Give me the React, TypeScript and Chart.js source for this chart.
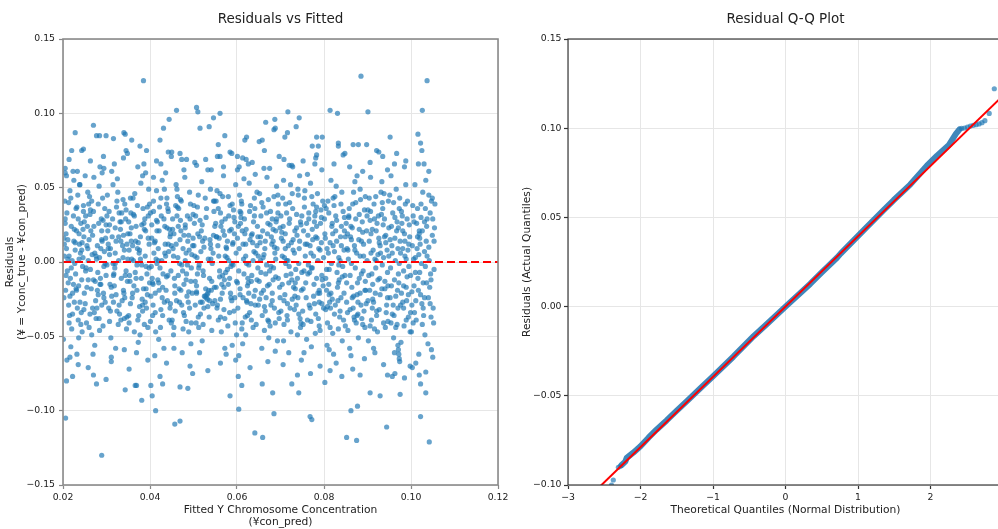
import React, { useEffect, useRef } from "react";
import { Chart, registerables } from "chart.js";

Chart.register(...registerables);

const FONT = "'DejaVu Sans', 'Liberation Sans', sans-serif";
const MINUS = "\u2212";

// ---------- Left panel: residuals vs fitted ----------
const scatterCore: [number, number][] = [
[.0203,.004],[.0217,-.011],[.0231,.021],[.0245,-.003],[.0209,.033],[.0226,-.027],[.0238,.012],[.0214,-.041],[.0249,.027],[.0221,.001],[.0206,-.019],[.0234,.045],[.0242,-.034],[.0211,.015],[.0229,-.008],[.0247,.038],[.0201,-.052],[.0219,.024],[.0236,-.016],[.0208,.009],[.0244,-.047],[.0224,.031],[.0213,-.029],[.0240,.006],[.0232,-.062],[.0204,.041],[.0227,-.001],[.0248,.017],[.0215,-.036],[.0239,.052],[.0222,-.021],[.0207,.019],[.0243,-.012],[.0230,.036],[.0218,-.057],[.0246,.003],[.0210,-.006],[.0235,-.039],[.0225,.014],[.0202,-.024],[.0241,.026],[.0216,.048],[.0233,-.031],[.0228,.008],[.0212,-.014],[.0249,-.021],[.0205,.029],[.0237,.002],[.0220,-.045],[.0244,.013],[.0223,.061],[.0209,-.066],[.0231,-.019],[.0247,.034],[.0214,.004],[.0239,-.027],[.0226,.022],[.0203,.012],[.0236,-.051],[.0218,.043],
[.0253,-.004],[.0268,.018],[.0281,-.022],[.0295,.007],[.0259,.039],[.0274,-.013],[.0288,.029],[.0262,-.035],[.0299,-.009],[.0277,.002],[.0256,.024],[.0284,-.046],[.0291,.043],[.0265,-.018],[.0279,.011],[.0251,-.028],[.0270,.034],[.0297,-.001],[.0283,-.038],[.0260,.015],[.0273,-.056],[.0289,.021],[.0257,.047],[.0294,-.024],[.0267,.005],[.0286,-.011],[.0252,.031],[.0278,-.031],[.0298,.016],[.0263,-.005],[.0271,.057],[.0292,-.043],[.0255,-.017],[.0282,.026],[.0269,-.062],[.0287,.009],[.0258,.001],[.0275,-.026],[.0296,.036],[.0264,.021],[.0280,-.007],[.0254,-.041],[.0290,.014],[.0272,-.034],[.0261,.044],[.0285,-.015],[.0299,.025],[.0266,-.049],[.0276,.004],[.0293,-.021],[.0257,.009],[.0283,.051],[.0270,-.012],[.0289,-.029],[.0262,.032],
[.0304,.012],[.0318,-.016],[.0331,.027],[.0345,-.006],[.0309,-.033],[.0324,.041],[.0338,.003],[.0312,-.023],[.0349,.019],[.0327,-.042],[.0306,.034],[.0334,-.011],[.0341,.008],[.0315,.052],[.0329,-.029],[.0301,-.002],[.0320,.023],[.0347,-.037],[.0333,.014],[.0310,-.051],[.0323,.037],[.0339,-.019],[.0307,.005],[.0344,.029],[.0317,-.008],[.0336,-.026],[.0302,.045],[.0328,.001],[.0348,-.013],[.0313,.017],[.0321,-.058],[.0342,.039],[.0305,-.031],[.0332,.022],[.0319,-.004],[.0337,.011],[.0308,-.015],[.0325,.056],[.0346,-.045],[.0314,.029],[.0330,-.035],[.0304,.009],[.0340,-.021],[.0322,.014],[.0311,-.064],[.0335,.033],[.0349,.002],[.0316,-.027],[.0326,.047],[.0343,-.009],[.0307,.025],[.0333,-.039],[.0320,-.001],[.0339,.018],[.0312,.061],
[.0353,-.009],[.0367,.014],[.0382,-.025],[.0396,.031],[.0358,.002],[.0372,-.039],[.0387,.022],[.0361,.043],[.0399,-.014],[.0376,.008],[.0355,-.028],[.0384,.036],[.0391,-.003],[.0364,-.047],[.0378,.017],[.0351,.027],[.0370,-.019],[.0397,.049],[.0383,-.033],[.0360,.011],[.0373,-.054],[.0389,.004],[.0356,.033],[.0394,-.022],[.0366,-.007],[.0386,.026],[.0352,-.041],[.0379,.053],[.0398,.012],[.0363,-.016],[.0371,.038],[.0392,-.031],[.0354,.019],[.0381,-.002],[.0369,-.061],[.0388,.029],[.0359,-.024],[.0375,.006],[.0395,-.044],[.0365,.046],[.0380,-.011],[.0357,.014],[.0390,.021],[.0374,-.036],[.0362,.001],[.0385,-.018],[.0399,.039],[.0368,.024],[.0377,-.049],[.0393,-.008],[.0354,-.013],[.0383,.058],[.0371,.009],[.0389,-.027],[.0362,.032],
[.0404,.016],[.0418,-.012],[.0432,.029],[.0446,-.031],[.0409,.006],[.0424,-.044],[.0438,.039],[.0412,-.021],[.0449,.011],[.0427,.001],[.0406,-.036],[.0434,.024],[.0441,-.009],[.0415,.048],[.0429,-.017],[.0401,.033],[.0420,-.052],[.0447,.019],[.0433,-.027],[.0410,.013],[.0423,-.004],[.0439,.043],[.0407,-.015],[.0444,-.039],[.0417,.027],[.0436,.004],[.0402,-.023],[.0428,.055],[.0448,-.006],[.0413,-.047],[.0421,.021],[.0442,.034],[.0405,-.011],[.0432,-.058],[.0419,.009],[.0437,-.019],[.0408,.041],[.0425,-.032],[.0446,.017],[.0414,.002],[.0430,-.008],[.0404,.025],[.0440,-.026],[.0422,.037],[.0411,-.063],[.0435,.012],[.0449,-.041],[.0416,-.001],[.0426,.031],[.0443,.007],[.0407,-.029],[.0433,.049],[.0420,-.014],[.0439,.023],[.0412,-.034],
[.0453,.009],[.0467,-.018],[.0481,.025],[.0495,-.004],[.0458,-.033],[.0472,.041],[.0487,.014],[.0461,-.026],[.0499,.032],[.0476,-.045],[.0455,.019],[.0484,-.008],[.0491,.047],[.0464,.003],[.0478,-.015],[.0451,-.039],[.0470,.028],[.0497,-.021],[.0483,.006],[.0460,.052],[.0473,-.029],[.0489,.018],[.0456,-.011],[.0494,-.055],[.0466,.036],[.0486,-.002],[.0452,.022],[.0479,-.036],[.0498,.011],[.0463,.044],[.0471,-.019],[.0492,.029],[.0454,-.049],[.0481,.001],[.0469,.015],[.0488,-.027],[.0459,.038],[.0475,-.006],[.0495,-.041],[.0465,.024],[.0480,.057],[.0457,-.016],[.0490,.008],[.0474,-.061],[.0462,.031],[.0485,-.023],[.0499,.016],[.0468,-.001],[.0477,-.034],[.0493,.039],[.0454,.004],[.0483,-.012],[.0471,.021],[.0489,-.047],[.0462,.049],
[.0504,-.013],[.0518,.021],[.0531,-.022],[.0545,.006],[.0509,.037],[.0524,-.031],[.0538,.015],[.0512,-.004],[.0549,-.026],[.0527,.043],[.0506,-.041],[.0534,.002],[.0541,-.019],[.0515,.028],[.0529,-.024],[.0501,.011],[.0520,-.053],[.0547,.034],[.0533,-.021],[.0510,.019],[.0523,-.009],[.0539,.049],[.0507,-.016],[.0544,-.028],[.0517,.007],[.0536,-.037],[.0502,.026],[.0528,-.018],[.0548,.041],[.0513,-.002],[.0521,.014],[.0542,-.046],[.0505,.031],[.0532,-.025],[.0519,.054],[.0537,-.011],[.0508,.003],[.0525,-.023],[.0546,.018],[.0514,-.061],[.0530,.036],[.0504,-.029],[.0540,.009],[.0522,-.006],[.0511,.045],[.0535,-.019],[.0549,.024],[.0516,-.035],[.0526,.016],[.0543,-.001],[.0507,-.021],[.0533,.062],[.0520,-.027],[.0539,.012],[.0512,-.044],
[.0553,.017],[.0567,-.009],[.0581,.031],[.0595,-.024],[.0558,.004],[.0572,-.038],[.0587,.022],[.0561,.046],[.0599,-.013],[.0576,.009],[.0555,-.029],[.0584,.038],[.0591,-.002],[.0564,-.047],[.0578,.014],[.0551,.026],[.0570,-.017],[.0597,.052],[.0583,-.034],[.0560,-.006],[.0573,.029],[.0589,-.056],[.0556,.011],[.0594,.019],[.0566,-.021],[.0586,-.003],[.0552,.041],[.0579,-.043],[.0598,.006],[.0563,.024],[.0571,-.012],[.0592,.035],[.0554,-.031],[.0581,.001],[.0569,.058],[.0588,-.026],[.0559,.016],[.0575,-.062],[.0595,.027],[.0565,-.015],[.0580,.044],[.0557,-.039],[.0590,.012],[.0574,-.007],[.0562,.033],[.0585,-.021],[.0599,-.049],[.0568,.021],[.0577,.003],[.0593,-.033],[.0554,.048],[.0583,-.011],[.0571,.018],[.0589,.039],[.0562,-.025],
[.0604,-.006],[.0618,.019],[.0632,-.028],[.0646,.011],[.0609,.033],[.0624,-.016],[.0638,.027],[.0612,-.041],[.0649,.004],[.0627,-.021],[.0606,.045],[.0634,-.009],[.0641,.036],[.0615,.002],[.0629,-.034],[.0601,.016],[.0620,-.049],[.0647,.024],[.0633,-.013],[.0610,.041],[.0623,-.027],[.0639,.007],[.0607,-.018],[.0644,-.042],[.0617,.029],[.0636,.013],[.0602,-.031],[.0628,.053],[.0648,-.004],[.0613,-.055],[.0621,.022],[.0642,-.019],[.0605,.009],[.0631,.038],[.0619,-.037],[.0637,.001],[.0608,.026],[.0625,-.011],[.0646,.047],[.0614,-.024],[.0630,.015],[.0604,-.063],[.0640,.031],[.0622,-.001],[.0611,-.045],[.0635,.019],[.0649,-.029],[.0616,.056],[.0626,-.014],[.0643,.006],[.0607,.034],[.0633,-.039],[.0620,.012],[.0639,-.023],[.0612,.021],
[.0653,.013],[.0667,-.024],[.0681,.029],[.0695,-.011],[.0658,-.036],[.0672,.042],[.0687,.006],[.0661,-.019],[.0699,.023],[.0676,-.043],[.0655,.031],[.0684,-.004],[.0691,.051],[.0664,.009],[.0678,-.029],[.0651,-.013],[.0670,.019],[.0697,-.038],[.0683,.014],[.0660,.037],[.0673,-.051],[.0689,.002],[.0656,-.021],[.0694,.033],[.0666,-.008],[.0686,-.031],[.0652,.046],[.0679,.017],[.0698,-.017],[.0663,-.046],[.0671,.026],[.0692,.009],[.0654,.001],[.0681,-.026],[.0669,.057],[.0688,-.041],[.0659,.021],[.0675,-.006],[.0695,.039],[.0665,-.033],[.0680,.012],[.0657,-.058],[.0690,.027],[.0674,-.015],[.0662,.005],[.0685,.044],[.0699,-.024],[.0668,-.002],[.0677,.034],[.0693,-.053],[.0654,.017],[.0683,-.012],[.0671,-.039],[.0689,.021],[.0662,.063],
[.0704,-.015],[.0718,.011],[.0732,-.032],[.0746,.027],[.0709,.003],[.0724,-.047],[.0738,.018],[.0712,.039],[.0749,-.007],[.0727,-.025],[.0706,.024],[.0734,-.014],[.0741,.045],[.0715,-.036],[.0729,.008],[.0701,.031],[.0720,-.003],[.0747,-.041],[.0733,.021],[.0710,-.022],[.0723,.052],[.0739,-.011],[.0707,-.053],[.0744,.014],[.0717,.001],[.0736,-.029],[.0702,.016],[.0728,.036],[.0748,-.019],[.0713,-.009],[.0721,.029],[.0742,-.035],[.0705,.043],[.0732,.006],[.0719,-.061],[.0737,.023],[.0708,-.026],[.0725,.013],[.0746,-.044],[.0714,.033],[.0730,-.017],[.0704,.004],[.0740,.049],[.0722,-.031],[.0711,.019],[.0735,-.005],[.0749,.031],[.0716,-.039],[.0726,-.012],[.0743,.009],[.0707,.055],[.0733,-.023],[.0720,.026],[.0739,-.049],[.0712,-.001],
[.0753,.021],[.0767,-.007],[.0781,.034],[.0795,-.028],[.0758,-.014],[.0772,.044],[.0787,-.038],[.0761,.012],[.0799,.003],[.0776,-.023],[.0755,.037],[.0784,.016],[.0791,-.046],[.0764,-.002],[.0778,.027],[.0751,-.033],[.0770,.006],[.0797,.041],[.0783,-.011],[.0760,-.052],[.0773,.022],[.0789,-.019],[.0756,.048],[.0794,.013],[.0766,-.029],[.0786,.001],[.0752,-.042],[.0779,.031],[.0798,-.016],[.0763,.018],[.0771,-.057],[.0792,.026],[.0754,-.006],[.0781,-.035],[.0769,.053],[.0788,.009],[.0759,-.024],[.0775,.039],[.0795,-.009],[.0765,.029],[.0780,-.048],[.0757,.004],[.0790,-.021],[.0774,.015],[.0762,-.039],[.0785,.046],[.0799,-.031],[.0768,.011],[.0777,-.015],[.0793,.035],[.0754,-.061],[.0783,.024],[.0771,-.004],[.0789,-.027],[.0762,.059],
[.0804,-.011],[.0818,.024],[.0832,-.026],[.0846,.008],[.0809,.041],[.0824,-.035],[.0838,.017],[.0812,-.005],[.0849,-.043],[.0827,.031],[.0806,-.019],[.0834,.003],[.0841,.047],[.0815,-.031],[.0829,.014],[.0801,.029],[.0820,-.048],[.0847,.021],[.0833,-.014],[.0810,.006],[.0823,.038],[.0839,-.024],[.0807,-.056],[.0844,.034],[.0817,-.001],[.0836,-.037],[.0802,.019],[.0828,.051],[.0848,-.009],[.0813,-.027],[.0821,.011],[.0842,-.053],[.0805,.036],[.0831,-.017],[.0819,.026],[.0837,.001],[.0808,-.041],[.0825,.044],[.0846,-.021],[.0814,.013],[.0830,-.007],[.0804,-.032],[.0840,.024],[.0822,-.062],[.0811,.033],[.0835,-.012],[.0849,.017],[.0816,.055],[.0826,-.029],[.0843,-.003],[.0807,.009],[.0833,-.045],[.0820,.019],[.0839,.039],[.0812,-.022],
[.0853,.009],[.0867,-.031],[.0881,.022],[.0895,-.013],[.0858,.036],[.0872,-.004],[.0887,-.038],[.0861,.017],[.0899,.031],[.0876,-.022],[.0855,-.046],[.0884,.042],[.0891,.004],[.0864,-.017],[.0878,-.035],[.0851,.026],[.0870,.011],[.0897,-.028],[.0883,.049],[.0860,-.009],[.0873,.029],[.0889,-.042],[.0856,.002],[.0894,-.019],[.0866,.039],[.0886,.014],[.0852,-.027],[.0879,-.051],[.0898,.021],[.0863,-.001],[.0871,.054],[.0892,-.033],[.0854,.019],[.0881,-.011],[.0869,-.037],[.0888,.027],[.0859,-.058],[.0875,.006],[.0895,.044],[.0865,-.024],[.0880,.015],[.0857,.031],[.0890,-.006],[.0874,-.041],[.0862,.024],[.0885,-.029],[.0899,.001],[.0868,.047],[.0877,-.014],[.0893,.035],[.0854,-.034],[.0883,-.021],[.0871,.008],[.0889,.061],[.0862,-.063],
[.0904,.014],[.0918,-.021],[.0932,.032],[.0946,-.007],[.0909,-.039],[.0924,.005],[.0938,.046],[.0912,-.015],[.0949,.023],[.0927,-.032],[.0906,.028],[.0934,-.002],[.0941,-.044],[.0915,.039],[.0929,.011],[.0901,-.026],[.0920,.021],[.0947,-.016],[.0933,.054],[.0910,-.008],[.0923,-.047],[.0939,.017],[.0907,.034],[.0944,-.029],[.0917,.002],[.0936,.025],[.0902,-.053],[.0928,-.011],[.0948,.041],[.0913,.008],[.0921,-.036],[.0942,.013],[.0905,-.019],[.0931,.047],[.0919,-.004],[.0937,-.041],[.0908,.019],[.0925,.031],[.0946,-.024],[.0914,-.058],[.0930,.006],[.0904,.043],[.0940,-.013],[.0922,.026],[.0911,-.031],[.0935,.036],[.0949,.004],[.0916,-.045],[.0926,.016],[.0943,-.034],[.0907,.057],[.0933,-.018],[.0920,.001],[.0939,.029],[.0912,-.025],
[.0953,-.004],[.0967,.021],[.0981,-.027],[.0995,.012],[.0958,.033],[.0972,-.014],[.0987,.039],[.0961,-.036],[.0999,-.009],[.0976,.006],[.0955,.024],[.0984,-.043],[.0991,.029],[.0964,.001],[.0978,-.021],[.0951,.045],[.0970,-.031],[.0997,.017],[.0983,-.006],[.0960,-.051],[.0973,.036],[.0989,-.017],[.0956,.011],[.0994,-.037],[.0966,.049],[.0986,.004],[.0952,-.024],[.0979,.026],[.0998,-.047],[.0963,.016],[.0971,-.008],[.0992,.041],[.0954,-.041],[.0981,.009],[.0969,-.019],[.0988,.052],[.0959,-.029],[.0975,.014],[.0995,-.003],[.0965,-.044],[.0980,.031],[.0957,.006],[.0990,-.026],[.0974,.043],[.0962,-.012],[.0985,.019],[.0999,-.034],[.0968,.027],[.0977,-.054],[.0993,.008],[.0954,.058],[.0983,-.016],[.0971,.023],[.0989,-.039],[.0962,-.061],
[.1003,.011],[.1017,-.019],[.1031,.027],[.1045,-.008],[.1008,-.034],[.1023,.039],[.1037,.004],[.1011,-.026],[.1049,.018],[.1026,-.042],[.1005,.031],[.1033,-.003],[.1041,.045],[.1014,.009],[.1028,-.014],[.1001,-.047],[.1019,.021],[.1051,-.031],[.1035,.014],[.1009,.052],[.1022,-.022],[.1039,-.055],[.1006,.002],[.1044,.033],[.1016,-.011],[.1036,.024],[.1002,-.029],[.1027,.047],[.1053,-.005],[.1012,-.039],[.1020,.016],[.1043,-.017],[.1004,.038],[.1031,.007],[.1018,-.062],[.1037,.029],[.1007,-.016],[.1024,-.001],[.1047,.041],[.1013,.026],[.1029,-.036],[.1054,.023],[.1040,-.024],[.1021,.012],[.1010,-.007],[.1034,.055],[.1052,-.041],[.1015,.036],[.1025,-.028],[.1042,.001],[.1055,.039],[.1032,-.049],[.1019,.019],[.1050,.029],[.1046,-.012]
];

const scatterDense: [number, number][] = [
[.0211,.002],[.0224,-.015],[.0237,.019],[.0248,-.032],[.0205,.026],[.0219,-.004],[.0232,.037],[.0243,.008],[.0216,-.023],[.0228,.013],[.0241,-.042],[.0207,-.009],[.0235,.029],[.0222,-.035],[.0246,.022],[.0213,.040],[.0230,-.018],[.0202,.016],
[.0258,-.012],[.0271,.024],[.0284,.003],[.0297,-.027],[.0263,.035],[.0276,-.038],[.0289,.015],[.0252,-.006],[.0266,.041],[.0279,-.019],[.0292,.028],[.0255,.011],[.0268,-.031],[.0281,.039],[.0294,-.003],[.0260,-.044],[.0273,.006],[.0287,-.015],
[.0303,.021],[.0316,-.009],[.0329,.033],[.0342,-.024],[.0307,-.040],[.0320,.006],[.0334,.027],[.0347,.012],[.0311,-.017],[.0324,-.033],[.0338,.042],[.0301,.031],[.0315,-.001],[.0328,.017],[.0341,-.038],[.0309,.009],[.0322,-.022],[.0345,.035],
[.0357,.023],[.0370,-.002],[.0383,-.029],[.0396,.016],[.0351,-.036],[.0364,.031],[.0378,.002],[.0391,-.018],[.0355,.043],[.0368,-.011],[.0381,.025],[.0394,.037],[.0360,-.021],[.0373,.013],[.0387,-.042],[.0352,.008],[.0376,-.030],[.0398,-.004],
[.0403,-.003],[.0416,.021],[.0429,-.036],[.0442,.012],[.0408,.034],[.0421,-.019],[.0434,.006],[.0447,-.028],[.0412,.014],[.0425,.043],[.0438,-.010],[.0401,-.040],[.0415,.028],[.0428,-.024],[.0441,.036],[.0406,-.014],[.0419,.001],[.0445,.022],
[.0452,.029],[.0465,-.009],[.0478,.018],[.0491,-.031],[.0457,-.021],[.0470,.042],[.0483,-.040],[.0496,.005],[.0460,.012],[.0473,-.002],[.0486,.031],[.0455,-.044],[.0468,-.027],[.0481,.023],[.0494,-.013],[.0463,.037],[.0476,.009],[.0489,-.020],
[.0503,.004],[.0516,-.027],[.0529,.030],[.0542,-.013],[.0507,-.020],[.0520,.025],[.0533,-.030],[.0546,.041],[.0511,-.037],[.0524,.010],[.0537,-.026],[.0501,.038],[.0514,.017],[.0527,-.023],[.0540,.002],[.0509,-.008],[.0522,-.042],[.0548,-.017],
[.0552,-.017],[.0565,.027],[.0578,-.005],[.0591,.013],[.0557,.036],[.0570,-.032],[.0583,.021],[.0596,-.041],[.0560,-.010],[.0573,.004],[.0586,-.024],[.0553,.017],[.0567,.044],[.0580,-.015],[.0593,.030],[.0562,-.037],[.0575,.010],[.0588,-.001],
[.0603,.024],[.0616,-.008],[.0629,.034],[.0642,-.029],[.0607,-.022],[.0620,.004],[.0633,.018],[.0646,-.012],[.0611,.039],[.0624,-.036],[.0637,-.044],[.0601,-.014],[.0614,.012],[.0627,-.002],[.0640,.043],[.0609,.030],[.0622,-.026],[.0648,.017],
[.0652,-.025],[.0665,.014],[.0678,-.003],[.0691,.029],[.0657,.040],[.0670,-.016],[.0683,.022],[.0696,-.034],[.0660,.003],[.0673,-.040],[.0686,.010],[.0655,-.007],[.0668,.033],[.0681,-.021],[.0694,.045],[.0663,-.030],[.0676,.025],[.0689,-.010],
[.0703,.020],[.0716,-.028],[.0729,.015],[.0742,-.001],[.0708,-.042],[.0721,.040],[.0734,-.018],[.0747,.025],[.0711,.009],[.0724,-.008],[.0737,.032],[.0701,-.033],[.0714,.001],[.0727,.046],[.0740,-.024],[.0706,.014],[.0719,-.014],[.0745,-.038],
[.0752,-.018],[.0765,.033],[.0778,-.028],[.0791,.008],[.0757,.012],[.0770,-.040],[.0783,.037],[.0796,-.012],[.0760,.026],[.0773,-.004],[.0786,-.021],[.0755,.043],[.0768,-.031],[.0781,.017],[.0794,.030],[.0763,-.008],[.0776,.004],[.0789,-.043],
[.0803,.016],[.0816,-.021],[.0829,.028],[.0842,-.010],[.0808,-.030],[.0821,.043],[.0834,-.002],[.0847,.030],[.0811,-.015],[.0824,.007],[.0837,-.033],[.0801,.038],[.0814,-.044],[.0827,.021],[.0840,.011],[.0806,-.005],[.0819,-.025],[.0845,-.039],
[.0852,-.014],[.0865,.023],[.0878,-.027],[.0891,.012],[.0857,.030],[.0870,-.039],[.0883,.004],[.0896,-.019],[.0860,-.032],[.0873,.040],[.0886,-.008],[.0855,.008],[.0868,-.023],[.0881,.032],[.0894,-.044],[.0863,.015],[.0876,-.036],[.0889,.020],
[.0903,-.009],[.0916,.029],[.0929,-.022],[.0942,.018],[.0908,.006],[.0921,-.033],[.0934,.040],[.0947,-.040],[.0911,.022],[.0924,-.012],[.0937,.003],[.0901,.035],[.0914,-.027],[.0927,.013],[.0940,-.018],[.0906,-.043],[.0919,.044],[.0945,.008],
[.0952,.015],[.0965,-.023],[.0978,.034],[.0991,-.010],[.0957,-.035],[.0970,.009],[.0983,-.031],[.0996,.025],[.0960,.040],[.0973,-.001],[.0986,.014],[.0955,-.016],[.0968,-.042],[.0981,.021],[.0994,-.022],[.0963,.030],[.0976,-.029],[.0989,.002],
[.1002,-.020],[.1015,.017],[.1028,-.031],[.1041,.010],[.1007,.027],[.1020,-.007],[.1033,.036],[.1046,-.037],[.1010,.003],[.1023,.030],[.1036,-.014],[.1049,.043],[.1005,-.041],[.1018,.005],[.1031,-.024],[.1053,.014],[.1026,.021],[.1044,-.028]
];

const scatterHigh: [number, number][] = [
[.0228,.087],[.0220,.075],[.0243,.075],[.0247,.076],[.0233,.061],[.0251,.058],[.0225,.055],[.0238,.052],[.0205,.063],[.0205,.060],[.0208,.058],[.0270,.092],[.0277,.085],[.0284,.085],[.0299,.085],[.0293,.071],[.0285,.064],[.0294,.063],[.0290,.060],[.0316,.083],[.0340,.087],[.0343,.086],[.0345,.075],[.0348,.073],[.0339,.070],[.0358,.082],[.0377,.078],[.0385,.122],[.0392,.075],[.0386,.066],[.0390,.060],[.0408,.057],[.0431,.090],[.0444,.096],[.0461,.102],[.0423,.082],[.0425,.066],[.0442,.074],[.0450,.074],[.0436,.060],[.0449,.071],[.0469,.073],[.0473,.069],[.0484,.069],[.0503,.067],[.0507,.065],[.0507,.104],[.0510,.101],[.0515,.090],[.0536,.091],[.0546,.097],[.0561,.100],[.0557,.079],[.0572,.085],[.0555,.071],[.0561,.071],[.0584,.074],[.0588,.073],[.0601,.071],[.0613,.070],[.0621,.069],[.0626,.066],[.0605,.064],[.0601,.062],[.0618,.082],[.0622,.084],[.0651,.081],[.0658,.082],[.0663,.075],[.0666,.094],[.0687,.096],[.0685,.089],[.0688,.090],[.0708,.069],[.0710,.084],[.0716,.087],[.0717,.101],[.0736,.091],[.0743,.097],[.0720,.065],[.0726,.065],[.0728,.064],[.0779,.066],[.0781,.070],[.0783,.072],[.0773,.078],[.0787,.078],[.0796,.084],[.0783,.084],[.0814,.102],[.0831,.100],[.0833,.080],[.0833,.078],[.0848,.073],[.0844,.072],[.0867,.079],[.0879,.079],[.0885,.125],[.0898,.079],[.0901,.101],[.0921,.075],[.0926,.074],[.0935,.071],[.0952,.084],[.0967,.073],[.0988,.068],[.1016,.086],[.1022,.080],[.1025,.075],[.1026,.102],[.1037,.122],[.1017,.066],
[.0263,.068],[.0318,.066],[.0372,.064],[.0415,.068],[.0478,.062],[.0528,.069],[.0569,.064],[.0635,.067],[.0675,.063],[.0697,.071],[.0752,.068],[.0795,.062],[.0823,.066],[.0859,.064],[.0906,.067],[.0946,.062],[.0985,.064],[.1030,.066],[.1041,.061],[.0214,.069],[.0541,.062],[.0642,.059],[.0744,.058],[.0876,.058],[.0962,.066]
];

const scatterLow: [number, number][] = [
[.0289,-.130],[.0206,-.105],[.0208,-.080],[.0222,-.077],[.0277,-.082],[.0270,-.076],[.0299,-.079],[.0343,-.086],[.0366,-.083],[.0369,-.083],[.0381,-.093],[.0413,-.100],[.0402,-.083],[.0405,-.090],[.0423,-.077],[.0429,-.082],[.0457,-.109],[.0469,-.107],[.0469,-.084],[.0487,-.085],[.0498,-.075],[.0584,-.090],[.0604,-.099],[.0603,-.077],[.0611,-.083],[.0641,-.115],[.0659,-.118],[.0658,-.082],[.0682,-.088],[.0685,-.102],[.0726,-.082],[.0742,-.088],[.0739,-.076],[.0768,-.104],[.0772,-.106],[.0769,-.075],[.0802,-.081],[.0814,-.073],[.0852,-.118],[.0841,-.077],[.0862,-.100],[.0875,-.120],[.0877,-.097],[.0883,-.076],[.0906,-.088],[.0929,-.090],[.0944,-.111],[.0946,-.076],[.0957,-.077],[.0963,-.075],[.0975,-.089],[.0985,-.078],[.0998,-.070],[.1003,-.071],[.1019,-.076],[.1022,-.104],[.1022,-.082],[.1034,-.074],[.1034,-.088],[.1042,-.121],[.1047,-.059],
[.0235,-.069],[.0258,-.071],[.0311,-.067],[.0352,-.072],[.0395,-.066],[.0438,-.068],[.0492,-.070],[.0533,-.073],[.0562,-.068],[.0597,-.066],[.0630,-.071],[.0671,-.067],[.0706,-.069],[.0748,-.066],[.0791,-.070],[.0828,-.068],[.0866,-.072],[.0893,-.065],[.0937,-.069],[.0970,-.056],[.0971,-.059],[.0972,-.062],[.0973,-.065],[.0974,-.067],[.1011,-.068],[.1050,-.064],[.0216,-.064],[.0341,-.059],[.0455,-.058],[.0572,-.058],[.0688,-.060],[.0812,-.059],[.0917,-.061]
];

const zeroLineX = [0.02, 0.12];
const zeroLineY = [0, 0];
const leftXTicks = [0.02, 0.04, 0.06, 0.08, 0.1, 0.12];
const leftYTicks = [-0.15, -0.1, -0.05, 0, 0.05, 0.1, 0.15];

// ---------- Right panel: Q-Q plot ----------
const qqBandTheoretical = [-2.26, -2.21, -2.19, -2.10, -2.00, -1.89, -1.78, -1.64, -1.50, -1.36, -1.18, -0.99, -0.72, -0.44, -0.26, 0, 0.34, 0.50, 0.71, 0.76, 1.12, 1.36, 1.49, 1.72, 1.95, 2.09, 2.25, 2.35, 2.40];
const qqBandSample = [-0.0888, -0.0869, -0.0848, -0.0819, -0.0783, -0.0735, -0.0690, -0.0638, -0.0583, -0.0530, -0.0460, -0.0387, -0.0281, -0.0166, -0.0099, 0.0000, 0.0127, 0.0192, 0.0274, 0.0297, 0.0446, 0.0543, 0.0596, 0.0684, 0.0790, 0.0846, 0.0904, 0.0968, 0.0993];
const qqTailTheoretical = [-2.40, -2.375, -2.305, -2.28, 2.43, 2.47, 2.51, 2.55, 2.59, 2.63, 2.67, 2.71, 2.75, 2.81, 2.88];
const qqTailSample = [-0.1000, -0.0972, -0.0901, -0.0895, 0.0999, 0.1001, 0.1006, 0.1012, 0.1016, 0.1020, 0.1024, 0.1031, 0.1042, 0.1083, 0.1221];
const qqLineTheoretical = [-3, 3];
const qqLineSample = [-0.1182, 0.1182];
const rightXTicks = [-3, -2, -1, 0, 1, 2, 3];
const rightYTicks = [-0.1, -0.05, 0, 0.05, 0.1, 0.15];

const toXY = (xs: number[], ys: number[]) => xs.map((x, i) => ({ x, y: ys[i] }));
const pairsXY = (p: [number, number][]) => p.map(([x, y]) => ({ x, y }));
const fmt = (digits: number) => (v: any) => {
  const n = Number(v);
  const s = Math.abs(n).toFixed(digits);
  return (n < -1e-9 ? MINUS : "") + s;
};

const panelDecor = (title: string, frameColor: string, frameWidth: number) => ({
  id: "panelDecor",
  afterDraw(chart: any) {
    const { ctx, chartArea } = chart;
    const { left, top, right, bottom } = chartArea;
    ctx.save();
    ctx.strokeStyle = frameColor;
    ctx.lineWidth = frameWidth;
    ctx.strokeRect(left, top, right - left, bottom - top);
    ctx.fillStyle = "#222";
    ctx.font = `13.5px ${FONT}`;
    ctx.textAlign = "center";
    ctx.textBaseline = "middle";
    ctx.fillText(title, (left + right) / 2, 19);
    ctx.restore();
  },
});

const POINT = "rgba(31,119,180,0.68)";
const GRID = "#e6e6e6";

function axis(opts: {
  min: number; max: number; ticks: number[]; digits: number; horizontal: boolean;
  size: number; title: string | string[]; titlePad: any; tickColor: string; tickPad: number;
}) {
  return {
    type: "linear",
    min: opts.min,
    max: opts.max,
    afterBuildTicks: (scale: any) => {
      scale.ticks = opts.ticks.map((v) => ({ value: v }));
    },
    afterFit: (scale: any) => {
      if (opts.horizontal) scale.height = opts.size;
      else scale.width = opts.size;
    },
    grid: { color: GRID, lineWidth: 1, tickColor: opts.tickColor, tickLength: 4, tickWidth: 1.2 },
    border: { display: false },
    ticks: {
      color: "#222",
      font: { size: 9.3, family: FONT },
      padding: opts.tickPad,
      maxRotation: 0,
      autoSkip: false,
      callback: fmt(opts.digits),
    },
    title: {
      display: true,
      text: opts.title,
      color: "#222",
      font: { size: 10.7, family: FONT, lineHeight: 1.12 },
      padding: opts.titlePad,
    },
  };
}

export default function App() {
  const leftRef = useRef<HTMLCanvasElement>(null);
  const rightRef = useRef<HTMLCanvasElement>(null);

  useEffect(() => {
    const left = new Chart(leftRef.current as HTMLCanvasElement, {
      type: "scatter",
      data: {
        datasets: [
          {
            data: toXY(zeroLineX, zeroLineY),
            showLine: true,
            borderColor: "#ff0000",
            borderWidth: 2,
            borderDash: [8, 4],
            pointRadius: 0,
            clip: 0,
          } as any,
          {
            data: [...pairsXY(scatterCore), ...pairsXY(scatterDense), ...pairsXY(scatterHigh), ...pairsXY(scatterLow)],
            pointRadius: 2.6,
            pointBackgroundColor: POINT,
            pointBorderWidth: 0,
            clip: 0,
          } as any,
        ],
      },
      options: {
        responsive: false,
        animation: false,
        devicePixelRatio: 1,
        events: [],
        layout: { padding: { left: 0, right: 32, top: 39, bottom: 0 } },
        plugins: { legend: { display: false }, tooltip: { enabled: false }, title: { display: false } },
        scales: {
          x: axis({
            min: 0.02, max: 0.12, ticks: leftXTicks, digits: 2, horizontal: true, size: 44,
            title: ["Fitted Y Chromosome Concentration", "(¥con_pred)"],
            titlePad: { top: 0, bottom: 1 }, tickColor: "#888", tickPad: 3,
          }),
          y: axis({
            min: -0.15, max: 0.15, ticks: leftYTicks, digits: 2, horizontal: false, size: 63,
            title: ["Residuals", "(¥ = Yconc_true - ¥con_pred)"],
            titlePad: { top: 4, bottom: 0 }, tickColor: "#888", tickPad: 4,
          }),
        } as any,
      },
      plugins: [panelDecor("Residuals vs Fitted", "#8a8a8a", 1.6)],
    } as any);

    const right = new Chart(rightRef.current as HTMLCanvasElement, {
      type: "scatter",
      data: {
        datasets: [
          {
            data: toXY(qqLineTheoretical, qqLineSample),
            showLine: true,
            borderColor: "#ff0000",
            borderWidth: 2,
            pointRadius: 0,
            clip: 0,
          } as any,
          {
            data: toXY(qqTailTheoretical, qqTailSample),
            pointRadius: 2.6,
            pointBackgroundColor: POINT,
            pointBorderWidth: 0,
            clip: 0,
          } as any,
          {
            data: toXY(qqBandTheoretical, qqBandSample),
            showLine: true,
            borderColor: "rgba(36,118,178,0.88)",
            borderWidth: 6,
            borderCapStyle: "round",
            borderJoinStyle: "round",
            pointRadius: 0,
            clip: 0,
          } as any,
        ],
      },
      options: {
        responsive: false,
        animation: false,
        devicePixelRatio: 1,
        events: [],
        layout: { padding: { left: 0, right: 8, top: 39, bottom: 0 } },
        plugins: { legend: { display: false }, tooltip: { enabled: false }, title: { display: false } },
        scales: {
          x: axis({
            min: -3, max: 3, ticks: rightXTicks, digits: 0, horizontal: true, size: 44,
            title: "Theoretical Quantiles (Normal Distribution)",
            titlePad: { top: 0, bottom: 13 }, tickColor: "#333", tickPad: 3,
          }),
          y: axis({
            min: -0.1, max: 0.15, ticks: rightYTicks, digits: 2, horizontal: false, size: 63,
            title: "Residuals (Actual Quantiles)",
            titlePad: { top: 16, bottom: 0 }, tickColor: "#333", tickPad: 2.5,
          }),
        } as any,
      },
      plugins: [panelDecor("Residual Q-Q Plot", "#3a3a3a", 1.2)],
    } as any);

    return () => {
      left.destroy();
      right.destroy();
    };
  }, []);

  return (
    <div
      style={{
        position: "fixed",
        left: 0,
        top: 0,
        width: 998,
        height: 529,
        overflow: "hidden",
        background: "#ffffff",
      }}
    >
      <canvas
        ref={leftRef}
        width={530}
        height={529}
        style={{ position: "absolute", left: 0, top: 0, width: 530, height: 529 }}
      />
      <canvas
        ref={rightRef}
        width={506}
        height={529}
        style={{ position: "absolute", left: 505, top: 0, width: 506, height: 529 }}
      />
    </div>
  );
}
